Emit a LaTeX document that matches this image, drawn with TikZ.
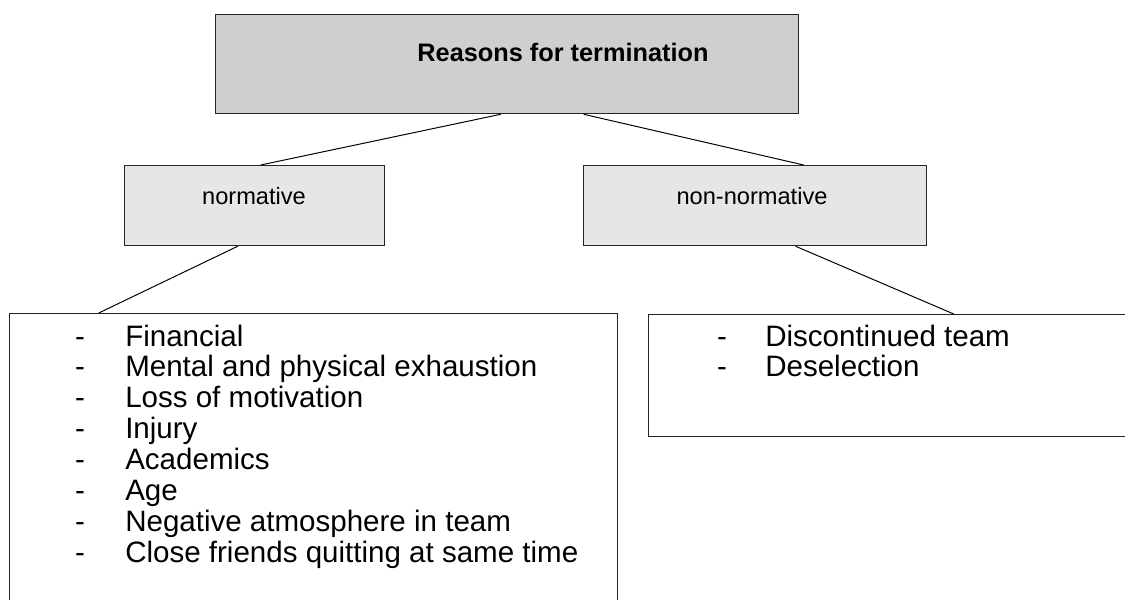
\documentclass[tikz,border=0pt]{standalone}
\usepackage{fontspec}
\setmainfont{Liberation Sans}
\usetikzlibrary{calc}

\definecolor{headgray}{RGB}{208,206,208}
\definecolor{catgray}{RGB}{230,230,230}

\begin{document}
\begin{tikzpicture}[x=0.025cm,y=-0.025cm]
\tikzset{
    box/.style={draw=black!85, line width=0.9pt, anchor=north west, inner sep=0pt},
    headbox/.style={box, fill=headgray, minimum width=14.575cm, minimum height=2.475cm},
    catbox/.style={box, fill=catgray, minimum height=2cm},
    lbl/.style={font=\fontsize{16.8}{22}\selectfont},
    listtext/.style={font=\fontsize{21}{22}\selectfont, inner sep=0pt},
    item/.style={listtext, anchor=base west},
    dashmark/.style={listtext, anchor=base},
    link/.style={draw=black, line width=0.7pt}
}
\clip (0,0) rectangle (1125,599);

% --- boxes ---
\node[headbox] (top) at (215,14) {};
\node[catbox, minimum width=6.5cm] (norm) at (124,165) {};
\node[catbox, minimum width=8.575cm] (nonnorm) at (583,165) {};
\node[box, minimum width=15.2cm, minimum height=10cm] (normlist) at (9,313) {};
\node[box, minimum width=15cm, minimum height=3.05cm] (nonlist) at (648,314) {};

% --- labels ---
\node[font=\fontsize{18}{22}\selectfont\bfseries] (toplbl) at (563,52) {Reasons for termination};
\node[lbl] (normlbl) at (254,196) {normative};
\node[lbl] (nonnormlbl) at (752,196) {non-normative};

% --- lists ---
\foreach \t [count=\i] in {Financial, Mental and physical exhaustion, Loss of motivation,
    Injury, Academics, Age, Negative atmosphere in team, Close friends quitting at same time}{
  \node[dashmark] (nd\i) at (80,{346+30.9*(\i-1)}) {-};
  \node[item] (ni\i) at (125,{346+30.9*(\i-1)}) {\t};
}
\foreach \t [count=\i] in {Discontinued team, Deselection}{
  \node[dashmark] (rd\i) at (722,{346+30.9*(\i-1)}) {-};
  \node[item] (ri\i) at (765,{346+30.9*(\i-1)}) {\t};
}

% --- connectors ---
\draw[link] ($(top.south)+(-6.5,0)$) -- ($(norm.north)+(6,0)$);
\draw[link] ($(top.south)+(76.5,0)$) -- ($(nonnorm.north)+(48.5,0)$);
\draw[link] ($(norm.south)+(-17,0)$) -- ($(normlist.north)+(-215,0)$);
\draw[link] ($(nonnorm.south)+(40.5,0)$) -- ($(nonlist.north)+(5,0)$);
\end{tikzpicture}
\end{document}
